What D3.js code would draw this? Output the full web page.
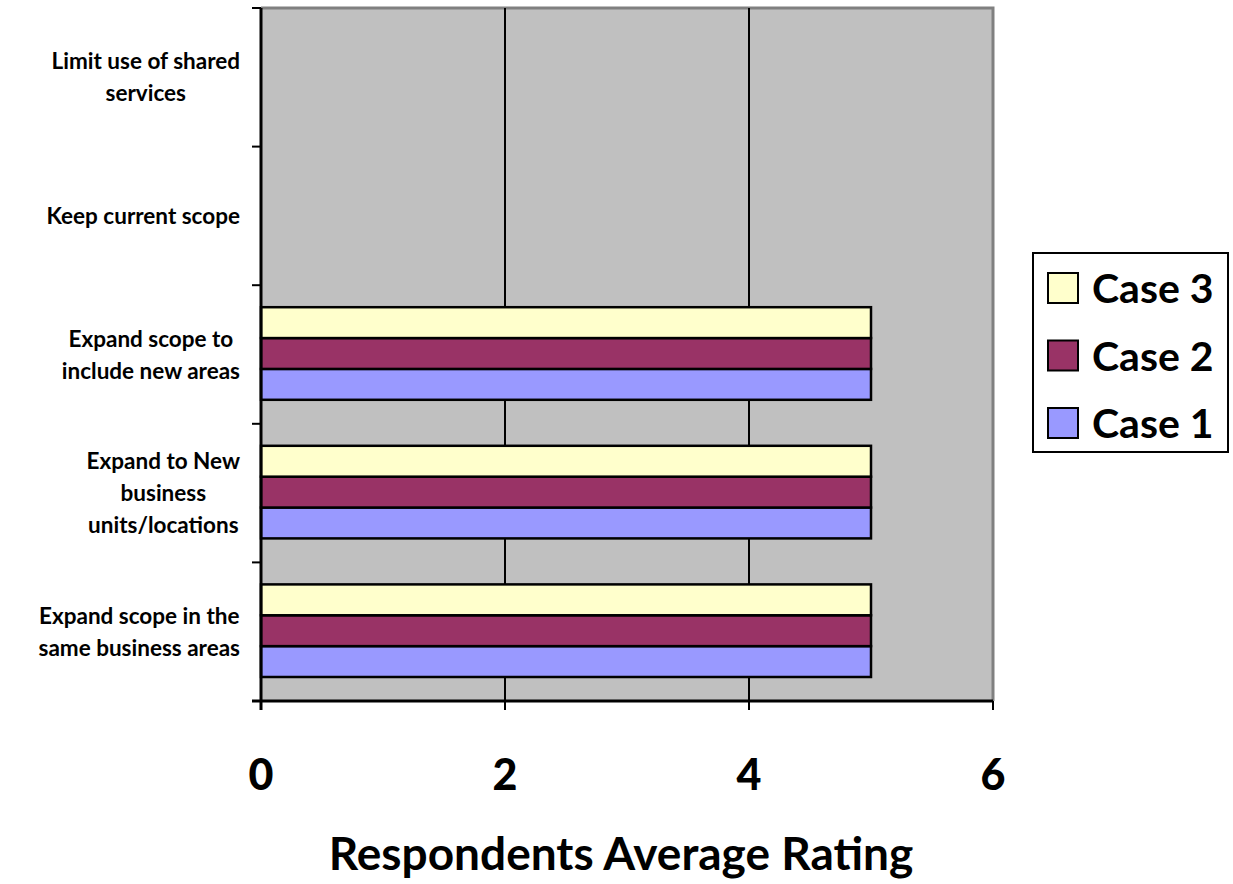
<!DOCTYPE html>
<html>
  <head>
    <meta charset="UTF-8" />
    <script src="https://d3js.org/d3.v7.min.js"></script>
    <style>
      body { margin: 0; background: #fff; }
      text { font-family: Lato, "Open Sans", sans-serif; font-weight: bold; fill: #000; }
    </style>
  </head>
  <body>
    <div id="my_dataviz"></div>

    <script>
      // categories, bottom to top, split into the lines shown on the chart
      var categories = [
        ["Expand scope in the", "same business areas"],
        ["Expand to New", "business", "units/locations"],
        ["Expand scope to", "include new areas"],
        ["Keep current scope"],
        ["Limit use of shared", "services"]
      ];
      var seriesNames = ["Case 1", "Case 2", "Case 3"];
      var case1 = [5, 5, 5, null, null];
      var case2 = [5, 5, 5, null, null];
      var case3 = [5, 5, 5, null, null];
      var xTicks = [0, 2, 4, 6];
      var axisTitle = "Respondents Average Rating";

      var colors = { "Case 1": "#9999FF", "Case 2": "#993366", "Case 3": "#FFFFCC" };
      var seriesValues = { "Case 1": case1, "Case 2": case2, "Case 3": case3 };

      var width = 1233, height = 884;
      var plot = { left: 261, right: 993, top: 8, bottom: 701 };

      var svg = d3
        .select("#my_dataviz")
        .append("svg")
        .attr("width", width)
        .attr("height", height);

      var xScale = d3.scaleLinear().domain([0, 6]).range([plot.left, plot.right]);

      // bottom category at the bottom of the plot
      var yScale = d3
        .scaleBand()
        .domain(d3.range(categories.length))
        .range([plot.bottom, plot.top])
        .padding(0);

      // inside each band: Case 3 on top, Case 1 at the bottom
      var inner = d3
        .scaleBand()
        .domain(["Case 3", "Case 2", "Case 1"])
        .range([22, yScale.bandwidth() - 24]);

      // plot background
      svg.append("rect")
        .attr("x", plot.left)
        .attr("y", plot.top)
        .attr("width", plot.right - plot.left)
        .attr("height", plot.bottom - plot.top)
        .attr("fill", "#C0C0C0");

      // frame top and right in dark gray
      svg.append("path")
        .attr("d", "M" + plot.left + "," + plot.top + "H" + plot.right + "V" + plot.bottom)
        .attr("fill", "none")
        .attr("stroke", "#808080")
        .attr("stroke-width", 3);

      // gridlines
      svg.append("g")
        .selectAll("line")
        .data(xTicks.filter(d => d > 0 && d < 6))
        .join("line")
        .attr("x1", d => xScale(d))
        .attr("x2", d => xScale(d))
        .attr("y1", plot.top)
        .attr("y2", plot.bottom)
        .attr("stroke", "#000")
        .attr("stroke-width", 2);

      // bars
      var rows = [];
      seriesNames.forEach(function (s) {
        seriesValues[s].forEach(function (v, i) {
          if (v != null) rows.push({ series: s, index: i, value: v });
        });
      });

      svg.append("g")
        .selectAll("rect")
        .data(rows)
        .join("rect")
        .attr("x", xScale(0))
        .attr("y", d => yScale(d.index) + inner(d.series))
        .attr("width", d => xScale(d.value) - xScale(0))
        .attr("height", inner.bandwidth())
        .attr("fill", d => colors[d.series])
        .attr("stroke", "#000")
        .attr("stroke-width", 2.5);

      // y axis line and ticks at band edges
      var yEdges = d3.range(categories.length + 1).map(i =>
        i < categories.length ? yScale(i) + yScale.bandwidth() : plot.top
      );
      svg.append("line")
        .attr("x1", plot.left).attr("x2", plot.left)
        .attr("y1", plot.top).attr("y2", plot.bottom + 9)
        .attr("stroke", "#000").attr("stroke-width", 3);
      svg.append("g")
        .selectAll("line")
        .data(yEdges)
        .join("line")
        .attr("x1", plot.left - 9)
        .attr("x2", plot.left)
        .attr("y1", d => d)
        .attr("y2", d => d)
        .attr("stroke", "#000")
        .attr("stroke-width", 2);

      // x axis
      svg.append("line")
        .attr("x1", plot.left - 9).attr("x2", plot.right)
        .attr("y1", plot.bottom).attr("y2", plot.bottom)
        .attr("stroke", "#000").attr("stroke-width", 3);
      svg.append("g")
        .selectAll("line")
        .data(xTicks)
        .join("line")
        .attr("x1", d => xScale(d))
        .attr("x2", d => xScale(d))
        .attr("y1", plot.bottom)
        .attr("y2", plot.bottom + 9)
        .attr("stroke", "#000")
        .attr("stroke-width", 2);

      svg.append("g")
        .selectAll("text")
        .data(xTicks)
        .join("text")
        .attr("x", d => xScale(d))
        .attr("y", 790)
        .attr("text-anchor", "middle")
        .style("font-size", "43px")
        .style("font-weight", "900")
        .text(d => d);

      // category labels, centered block with right edge near the axis
      var lineH = 32;
      var labelRight = 240;
      categories.forEach(function (lines, i) {
        var cy = yScale(i) + yScale.bandwidth() / 2;
        var g = svg.append("g");
        var t = g.selectAll("text")
          .data(lines)
          .join("text")
          .attr("text-anchor", "middle")
          .attr("y", (d, j) => cy + (j - (lines.length - 1) / 2) * lineH + 8)
          .style("font-size", "22.5px")
          .text(d => d);
        var maxW = d3.max(t.nodes(), n => n.getComputedTextLength());
        t.attr("x", labelRight - maxW / 2);
      });

      // axis title
      svg.append("text")
        .attr("x", 621)
        .attr("y", 870)
        .attr("text-anchor", "middle")
        .style("font-size", "46px")
        .text(axisTitle);

      // legend
      var legend = svg.append("g");
      legend.append("rect")
        .attr("x", 1033).attr("y", 253)
        .attr("width", 195).attr("height", 199)
        .attr("fill", "#fff")
        .attr("stroke", "#000")
        .attr("stroke-width", 2);
      var legendOrder = ["Case 3", "Case 2", "Case 1"];
      var item = legend.selectAll("g.item")
        .data(legendOrder)
        .join("g")
        .attr("class", "item")
        .attr("transform", (d, i) => "translate(1048," + (273 + i * 67.5) + ")");
      item.append("rect")
        .attr("width", 30).attr("height", 30)
        .attr("fill", d => colors[d])
        .attr("stroke", "#000")
        .attr("stroke-width", 2);
      item.append("text")
        .attr("x", 44)
        .attr("y", 30)
        .style("font-size", "41px")
        .text(d => d);
    </script>
  </body>
</html>
